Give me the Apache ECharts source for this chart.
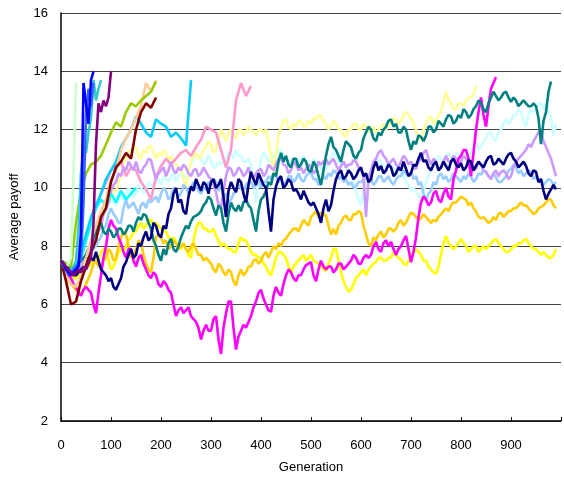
<!DOCTYPE html>
<html>
<head>
<meta charset="utf-8">
<script src="https://cdn.jsdelivr.net/npm/echarts@6/dist/echarts.min.js"></script>
<style>
  html, body { margin: 0; padding: 0; background: #fff; }
  #chart { width: 564px; height: 479px; }
</style>
</head>
<body>
<div id="chart"></div>
<script>
// Average payoff per generation for each simulated population.
// Runs are sampled every 5 or 10 generations (see the step in `runs`).
const xTicks = [0, 100, 200, 300, 400, 500, 600, 700, 800, 900];
const yTicks = [2, 4, 6, 8, 10, 12, 14, 16];

// fast-rising runs, every 5 generations
const lightGreenRun = [7.5, 7.4, 7.3, 7.4, 7.6, 10.5, 13.6];
const blueRun = [7.5, 7.4, 7.2, 7.1, 7.0, 7.1, 7.2, 7.3, 8.5, 13.6, 12.9, 12.2, 13.7, 14.0];
const royalBlueRun = [7.5, 7.3, 7.2, 7.0, 7.1, 7.2, 7.3, 7.4, 7.6, 9.5, 12.5, 13.4, 12.8, 13.6];
const turquoiseRun = [7.5, 7.4, 7.3, 7.2, 7.2, 7.3, 7.5, 8.6, 10.5, 11.4, 11.2, 11.9, 12.4, 13.7, 13.0, 13.4, 13.7];
const purpleRun = [7.5, 7.4, 7.3, 7.2, 7.1, 7.0, 7.1, 7.2, 7.1, 7.3, 7.2, 7.4, 7.6, 8.8, 11.5, 12.9, 12.6, 13.0, 12.8, 13.1, 14.0];

// shorter runs, every 10 generations
const maroonRun = [7.5, 6.8, 6.0, 6.1, 6.8, 7.3, 7.8, 8.2, 9.0, 9.3, 10.2, 10.7, 10.9, 11.2, 11.0, 12.0, 12.6, 12.9, 12.75, 13.1];
const peachRun = [7.5, 7.0, 6.7, 6.6, 7.0, 7.6, 8.2, 8.7, 9.2, 9.6, 10.3, 10.6, 11.3, 11.7, 12.0, 12.4, 12.8, 13.6, 13.3, 13.7];
const yellowGreenRun = [7.5, 7.4, 7.3, 8.8, 9.9, 10.5, 10.8, 10.9, 11.1, 11.5, 11.9, 12.25, 12.1, 12.6, 12.9, 12.8, 13.0, 13.15, 13.3, 13.65];
const cyanRun = [7.5, 7.3, 7.1, 7.2, 7.6, 8.2, 8.8, 9.3, 9.6, 9.4, 9.8, 9.5, 9.9, 9.6, 9.8, 10.0];
const skyBlueRun = [7.5, 7.3, 7.1, 7.3, 7.8, 8.4, 9.0, 9.4, 9.8, 10.3, 10.6, 10.9, 11.4, 11.7, 12.0, 12.45, 12.2, 11.9, 11.75, 12.35,
  12.2, 12.1, 11.75, 11.9, 11.7, 11.45, 13.7];
const pinkRun = [7.5, 7.3, 7.1, 7.3, 7.6, 8.2, 8.8, 9.3, 9.8, 10.2, 10.6, 10.8, 10.9, 10.4, 10.7, 10.6, 10.2, 9.95, 9.6, 10.4,
  10.75, 11.0, 10.8, 11.0, 11.2, 11.3, 11.1, 11.4, 11.65, 12.1, 12.0, 11.9, 11.3, 10.7, 11.3, 13.0, 13.6, 13.15, 13.5];

// long runs, every 5 generations
const lightYellowRun = [
  7.5, 7.4, 7.3, 7.1, 7.0, 7.0, 7.0, 7.1, 7.2, 7.3, 7.5, 7.7, 7.9, 8.1, 8.4, 8.7, 8.9, 9.2, 9.4, 9.7,
  9.6, 9.9, 9.9, 10.2, 10.4, 10.8, 11.0, 11.3, 11.2, 11.4, 11.4, 11.1, 11.0, 11.3, 11.2, 11.4, 11.45, 11.2, 11.0, 11.2,
  11.1, 11.3, 11.2, 10.9, 11.1, 10.9, 10.8, 10.7, 10.65, 10.3, 10.0, 10.5, 10.9, 11.1, 11.2, 11.0, 11.1, 11.3, 11.4, 11.6,
  11.5, 11.2, 11.3, 11.7, 12.0, 11.8, 11.6, 11.9, 12.0, 11.8, 11.7, 12.0, 12.0, 11.8, 11.9, 12.1, 12.0, 11.9, 11.8, 12.0,
  12.0, 11.9, 12.0, 11.6, 11.1, 10.5, 11.2, 11.8, 12.1, 12.3, 12.35, 12.1, 12.0, 12.2, 12.1, 12.3, 12.3, 12.1, 12.1, 12.3,
  12.2, 12.4, 12.35, 12.5, 12.45, 12.3, 12.2, 12.0, 12.1, 12.3, 12.2, 12.0, 12.0, 11.8, 11.75, 12.0, 12.0, 12.2, 12.2, 12.0,
  12.0, 12.2, 12.1, 11.9, 12.0, 12.1, 11.9, 12.0, 12.1, 12.2, 12.0, 12.2, 12.2, 12.4, 12.35, 12.2, 12.3, 12.5, 12.6, 12.5,
  12.4, 12.2, 12.0, 11.7, 11.65, 12.0, 12.2, 12.4, 12.45, 12.2, 12.3, 12.5, 12.6, 13.0, 13.3, 13.0, 12.9, 12.7, 12.7, 12.9,
  12.9, 12.8, 13.0, 13.1, 13.1, 13.2, 13.5];
const paleCyanRun = [
  7.5, 7.4, 7.3, 7.1, 7.0, 7.05, 7.1, 7.2, 7.4, 7.6, 7.8, 8.0, 8.2, 8.4, 8.6, 8.8, 8.9, 9.1, 9.2, 9.4,
  9.6, 9.5, 9.4, 9.6, 9.7, 9.6, 9.8, 10.0, 9.9, 9.7, 9.8, 10.1, 10.0, 9.8, 9.95, 10.2, 10.1, 10.0, 10.2, 10.3,
  10.1, 10.4, 10.3, 10.2, 10.4, 10.5, 10.2, 10.4, 10.5, 10.3, 10.4, 10.6, 10.8, 11.0, 11.2, 11.1, 11.0, 10.8, 10.9, 11.1,
  10.9, 10.7, 10.7, 10.9, 10.8, 10.9, 11.0, 11.2, 11.2, 11.0, 11.3, 11.1, 11.1, 10.9, 10.9, 11.0, 10.8, 10.2, 9.5, 10.4,
  11.0, 11.2, 11.1, 10.9, 10.9, 11.1, 11.1, 11.3, 11.3, 11.1, 11.0, 10.8, 10.9, 11.0, 10.8, 10.9, 11.0, 11.1, 10.9, 10.8,
  10.8, 11.0, 10.9, 10.8, 10.7, 10.5, 10.65, 10.9, 11.0, 11.2, 11.1, 10.9, 10.8, 10.9, 10.7, 10.6, 10.5, 10.2, 9.9, 9.6,
  9.4, 9.9, 10.2, 10.5, 10.6, 10.8, 10.8, 11.0, 10.9, 10.7, 10.7, 10.9, 10.8, 10.6, 10.6, 10.7, 10.5, 10.4, 10.2, 10.1,
  9.9, 10.0, 9.85, 9.7, 9.6, 9.9, 10.2, 10.4, 10.6, 10.8, 10.9, 11.1, 11.0, 10.8, 11.1, 11.2, 11.0, 10.9, 11.2, 11.1,
  11.0, 11.2, 11.3, 11.1, 11.2, 11.5, 11.55, 11.3, 11.4, 11.6, 11.7, 11.9, 11.9, 11.7, 11.6, 11.9, 12.0, 12.2, 12.35, 12.2,
  12.3, 12.5, 12.5, 12.7, 12.6, 12.3, 12.1, 12.5, 12.7, 12.6, 12.7, 12.9, 12.9, 12.7, 12.9, 12.6, 12.45, 11.8, 12.2];
const lightBlueRun = [
  7.5, 7.4, 7.3, 7.2, 7.1, 7.1, 7.1, 7.2, 7.3, 7.4, 7.6, 7.7, 7.8, 7.9, 8.0, 8.2, 8.3, 8.6, 8.7, 9.1,
  9.3, 9.1, 9.0, 8.8, 8.8, 9.3, 9.6, 9.3, 9.4, 9.5, 9.3, 9.1, 9.4, 9.5, 9.3, 9.6, 9.5, 9.6, 9.7, 9.5,
  9.8, 10.0, 9.9, 9.6, 9.7, 10.0, 9.9, 9.7, 9.8, 10.1, 10.0, 9.8, 10.0, 10.2, 10.05, 9.9, 9.8, 10.0, 9.95, 10.2,
  10.1, 10.3, 10.2, 9.9, 10.05, 9.7, 9.8, 9.5, 9.6, 9.8, 9.9, 10.1, 10.0, 9.9, 10.1, 10.2, 10.2, 10.0, 10.1, 10.3,
  10.0, 10.2, 10.2, 10.4, 10.3, 10.5, 10.4, 10.2, 10.3, 10.1, 10.2, 10.4, 10.4, 10.2, 10.3, 10.5, 10.3, 10.2, 10.4, 10.5,
  10.5, 10.3, 10.3, 10.1, 10.2, 10.4, 10.3, 10.5, 10.4, 10.6, 10.55, 10.3, 10.4, 10.2, 10.3, 10.1, 10.2, 10.0, 10.05, 10.2,
  10.2, 10.3, 10.4, 10.2, 10.3, 10.1, 10.2, 10.4, 10.4, 10.2, 10.3, 10.4, 10.2, 10.1, 10.3, 10.4, 10.4, 10.6, 10.5, 10.4,
  10.55, 10.3, 10.4, 10.1, 10.2, 9.8, 9.6, 9.8, 9.9, 10.2, 10.1, 10.4, 10.5, 10.3, 10.4, 10.2, 10.3, 10.5, 10.4, 10.3,
  10.2, 10.4, 10.3, 10.5, 10.4, 10.2, 10.3, 10.5, 10.45, 10.6, 10.55, 10.4, 10.3, 10.5, 10.35, 10.2, 10.2, 10.3, 10.4, 10.6,
  10.65, 10.8, 10.7, 10.5, 10.6, 10.4, 10.5, 10.6, 10.55, 10.3, 10.4, 10.2, 10.3, 10.1, 10.2, 10.3, 10.25, 10.1, 10.2];
const lightPurpleRun = [
  7.5, 7.4, 7.3, 7.2, 7.1, 7.15, 7.2, 7.3, 7.4, 7.5, 7.7, 7.8, 8.0, 8.2, 8.4, 8.5, 8.7, 9.1, 9.3, 9.5,
  9.9, 10.1, 10.2, 10.5, 10.4, 10.7, 10.6, 10.9, 10.75, 10.6, 10.9, 10.6, 10.5, 10.7, 10.8, 11.0, 10.95, 10.6, 10.3, 10.5,
  10.6, 10.7, 10.4, 10.6, 10.9, 10.6, 10.5, 10.7, 10.6, 10.8, 10.7, 10.5, 10.4, 10.6, 10.65, 10.4, 10.5, 10.7, 10.55, 10.4,
  10.3, 10.1, 9.85, 9.4, 9.3, 9.9, 10.4, 10.7, 10.65, 10.4, 10.5, 10.7, 10.6, 10.4, 10.5, 10.7, 10.4, 10.3, 10.5, 10.6,
  10.65, 10.4, 10.5, 10.8, 10.7, 10.6, 10.8, 11.0, 11.0, 10.8, 10.75, 10.5, 10.6, 10.9, 10.8, 10.6, 10.7, 10.5, 10.65, 10.8,
  10.7, 10.5, 10.6, 10.9, 10.8, 10.9, 11.0, 10.8, 10.9, 11.0, 10.8, 10.6, 10.75, 10.9, 10.7, 10.8, 10.8, 10.95, 10.9, 10.7,
  10.6, 10.4, 9.0, 10.3, 10.6, 10.9, 11.0, 11.2, 11.3, 11.1, 11.0, 10.8, 10.9, 11.0, 10.8, 10.7, 10.9, 11.1, 11.0, 10.8,
  10.9, 10.7, 10.65, 10.9, 11.0, 11.2, 11.3, 11.0, 10.8, 11.0, 10.9, 10.6, 10.7, 10.9, 11.1, 10.9, 10.9, 11.1, 11.0, 10.8,
  10.9, 11.1, 11.0, 10.9, 10.8, 10.6, 10.65, 10.9, 10.8, 10.6, 10.55, 10.4, 10.3, 10.5, 10.6, 10.4, 10.55, 10.6, 10.5, 10.3,
  10.4, 10.7, 10.9, 11.0, 11.1, 11.2, 11.3, 11.5, 11.4, 11.6, 11.75, 11.9, 11.95, 11.6, 11.4, 11.2, 11.0, 10.7, 10.4];
const tealRun = [
  7.5, 7.45, 7.4, 7.3, 7.2, 7.25, 7.3, 7.4, 7.5, 7.6, 7.7, 7.9, 8.0, 8.3, 8.5, 8.7, 8.8, 8.5, 8.4, 8.6,
  8.5, 8.3, 8.4, 8.6, 8.6, 8.4, 8.5, 8.7, 8.7, 8.5, 8.8, 9.0, 8.9, 9.1, 9.05, 8.8, 8.6, 8.2, 8.0, 7.7,
  7.5, 7.9, 7.7, 8.1, 8.25, 7.9, 7.8, 8.0, 8.3, 8.5, 8.7, 8.6, 8.85, 9.0, 9.05, 9.1, 9.2, 9.4, 9.5, 9.7,
  9.6, 9.3, 9.05, 9.4, 9.3, 8.8, 8.5, 9.1, 9.5, 9.3, 9.2, 9.4, 9.2, 9.5, 9.6, 9.4, 9.3, 8.9, 8.5, 9.2,
  9.6, 9.7, 9.9, 10.2, 10.1, 10.5, 10.4, 10.9, 11.2, 10.9, 11.1, 10.8, 10.7, 11.0, 11.0, 10.7, 10.8, 11.0, 10.9, 10.6,
  10.55, 10.9, 10.75, 10.4, 10.1, 10.6, 11.1, 11.5, 11.75, 11.4, 11.3, 11.1, 10.9, 11.3, 11.6, 11.5, 11.4, 11.1, 11.0, 11.2,
  11.3, 11.7, 11.9, 12.1, 12.0, 11.7, 11.6, 11.9, 11.8, 12.0, 12.1, 12.3, 12.35, 12.1, 12.2, 11.9, 11.9, 12.1, 12.0, 11.6,
  11.3, 11.6, 11.5, 11.8, 11.75, 11.6, 11.8, 12.1, 12.1, 11.9, 12.0, 12.3, 12.2, 12.1, 12.35, 12.5, 12.45, 12.2, 12.3, 12.5,
  12.4, 12.7, 12.6, 12.4, 12.5, 12.7, 12.8, 13.0, 12.9, 12.7, 12.6, 12.9, 13.1, 13.3, 13.15, 13.0, 13.1, 13.25, 13.3, 13.1,
  12.95, 13.1, 13.0, 12.8, 12.9, 13.0, 12.9, 12.8, 12.8, 12.9, 12.8, 12.4, 11.5, 12.3, 12.6, 13.3, 13.65];
const navyRun = [
  7.5, 7.4, 7.3, 7.2, 7.1, 7.0, 7.0, 7.1, 7.2, 7.3, 7.4, 7.6, 7.6, 7.5, 7.8, 7.5, 7.2, 7.1, 7.0, 6.8,
  6.9, 6.6, 6.5, 6.7, 6.9, 7.3, 7.45, 7.7, 7.9, 7.6, 7.7, 8.1, 8.0, 8.3, 8.5, 8.2, 8.3, 8.8, 8.7, 8.4,
  8.3, 8.7, 8.6, 9.1, 9.3, 9.8, 10.0, 9.5, 9.6, 9.2, 9.1, 9.7, 10.05, 9.9, 10.3, 10.1, 9.9, 10.2, 10.1, 9.8,
  10.2, 10.3, 10.0, 10.1, 10.3, 9.7, 9.0, 9.9, 10.2, 10.0, 9.85, 10.3, 10.2, 9.8, 9.5, 10.1, 10.55, 10.3, 10.1, 10.5,
  10.3, 10.1, 10.0, 9.2, 8.5, 9.6, 10.05, 10.3, 10.4, 10.0, 10.1, 10.3, 10.2, 9.9, 9.95, 9.8, 9.6, 9.9, 9.7, 9.5,
  9.4, 9.5, 9.3, 9.1, 8.8, 9.3, 9.6, 9.2, 9.4, 9.9, 10.3, 10.5, 10.6, 10.3, 10.4, 10.6, 10.5, 10.3, 10.4, 10.6,
  10.7, 10.4, 10.5, 10.2, 10.3, 10.7, 10.9, 10.6, 10.75, 10.5, 10.6, 10.8, 10.7, 10.4, 10.5, 10.7, 10.6, 10.9, 10.65, 10.4,
  10.5, 10.8, 10.75, 11.0, 11.2, 10.9, 10.95, 10.7, 10.6, 10.8, 10.9, 10.6, 10.7, 10.9, 10.75, 10.6, 10.9, 11.0, 10.8, 10.7,
  10.85, 10.6, 10.7, 10.95, 10.9, 10.6, 10.75, 10.9, 10.8, 10.7, 10.9, 11.05, 11.1, 10.8, 10.85, 11.0, 10.9, 10.8, 11.0, 11.15,
  11.2, 11.0, 10.9, 10.7, 10.8, 10.9, 10.75, 10.5, 10.4, 10.6, 10.55, 10.2, 10.3, 9.9, 9.6, 9.8, 9.95, 10.1, 9.95];
const goldRun = [
  7.5, 7.2, 7.0, 6.8, 6.7, 6.6, 6.5, 6.4, 6.4, 6.5, 6.7, 6.9, 7.1, 7.4, 7.5, 7.3, 7.3, 7.5, 7.6, 7.9,
  7.8, 7.5, 7.6, 8.0, 8.3, 8.5, 8.4, 8.0, 7.6, 7.7, 7.9, 8.2, 8.1, 7.7, 7.4, 7.2, 7.1, 7.6, 8.3, 8.4,
  8.3, 8.1, 8.2, 7.9, 8.0, 8.2, 8.1, 7.9, 8.0, 8.1, 7.9, 7.8, 8.0, 8.1, 7.9, 7.7, 7.7, 7.5, 7.6, 7.5,
  7.4, 7.2, 7.1, 7.4, 7.3, 7.1, 7.0, 7.2, 7.1, 6.8, 6.65, 7.0, 7.2, 7.0, 7.1, 7.3, 7.3, 7.5, 7.55, 7.4,
  7.5, 7.7, 7.8, 7.6, 7.8, 8.0, 7.9, 8.1, 8.0, 8.2, 8.25, 8.4, 8.5, 8.6, 8.6, 8.5, 8.7, 8.9, 8.8, 8.7,
  9.0, 9.1, 9.2, 9.0, 9.15, 9.1, 9.05, 8.7, 8.4, 8.6, 8.4, 8.7, 8.8, 9.0, 9.05, 8.9, 8.9, 9.1, 9.1, 9.2,
  9.15, 8.7, 8.4, 8.1, 8.0, 8.3, 8.2, 8.4, 8.5, 8.3, 8.4, 8.6, 8.6, 8.5, 8.6, 8.8, 8.9, 8.7, 8.8, 9.0,
  9.15, 9.1, 9.0, 8.9, 8.95, 9.1, 9.0, 8.9, 8.8, 8.9, 8.85, 9.0, 9.1, 9.2, 9.3, 9.2, 9.4, 9.5, 9.5, 9.6,
  9.7, 9.65, 9.6, 9.4, 9.5, 9.3, 9.2, 9.0, 8.95, 9.0, 8.9, 8.8, 8.85, 9.0, 8.9, 9.1, 9.15, 9.0, 9.1, 9.2,
  9.2, 9.3, 9.3, 9.4, 9.5, 9.4, 9.4, 9.3, 9.2, 9.1, 9.15, 9.3, 9.35, 9.4, 9.5, 9.6, 9.6, 9.4, 9.3];
const yellowRun = [
  7.5, 7.4, 7.3, 7.1, 7.0, 6.9, 6.9, 7.0, 7.0, 7.2, 7.3, 7.3, 7.4, 7.6, 7.6, 7.5, 7.8, 7.9, 7.9, 7.5,
  7.2, 7.3, 7.5, 7.8, 7.9, 7.8, 8.0, 8.2, 8.3, 8.5, 8.5, 8.7, 8.8, 8.6, 8.7, 8.9, 8.9, 8.7, 8.8, 8.7,
  8.6, 8.5, 8.5, 8.3, 8.2, 8.3, 8.15, 8.0, 7.9, 8.1, 7.9, 7.7, 7.6, 8.2, 8.6, 8.8, 8.8, 8.6, 8.6, 8.5,
  8.5, 8.6, 8.35, 8.2, 8.0, 8.1, 8.0, 7.9, 7.9, 7.8, 7.8, 8.1, 8.3, 8.2, 8.2, 8.0, 7.8, 7.7, 7.7, 7.6,
  7.6, 7.4, 7.3, 7.1, 7.0, 7.3, 7.6, 7.8, 7.8, 7.7, 7.6, 7.3, 7.1, 7.3, 7.4, 7.5, 7.6, 7.7, 7.5, 7.6,
  7.7, 7.5, 7.45, 7.4, 7.3, 7.2, 7.15, 7.4, 7.6, 7.9, 7.9, 7.5, 7.1, 6.8, 6.6, 6.45, 6.5, 6.7, 6.9, 7.0,
  7.1, 7.2, 7.0, 7.2, 7.3, 7.4, 7.45, 7.6, 7.6, 7.5, 7.5, 7.6, 7.6, 7.8, 7.7, 7.6, 7.55, 7.4, 7.35, 7.5,
  7.7, 7.8, 7.9, 7.8, 7.7, 7.5, 7.5, 7.3, 7.2, 7.1, 7.05, 7.3, 7.7, 8.1, 8.35, 8.1, 8.0, 7.9, 8.0, 8.1,
  8.25, 8.1, 8.0, 7.8, 7.9, 8.0, 8.0, 7.8, 7.9, 8.0, 7.9, 8.0, 8.1, 8.2, 8.25, 8.1, 8.0, 7.9, 7.8, 7.8,
  7.9, 8.0, 8.0, 8.1, 8.1, 8.2, 8.25, 8.1, 8.0, 7.9, 7.9, 7.8, 7.7, 7.8, 7.7, 7.6, 7.6, 7.7, 7.9];
const magentaRun = [
  7.5, 7.4, 7.2, 7.0, 6.9, 6.7, 6.6, 6.4, 6.3, 6.5, 6.6, 6.5, 6.4, 6.0, 5.7, 6.4, 7.0, 7.6, 8.0, 8.6,
  8.9, 8.7, 8.6, 8.3, 8.1, 7.8, 7.6, 7.9, 7.9, 7.5, 7.3, 7.6, 7.7, 7.4, 7.2, 7.0, 6.9, 7.1, 7.0, 6.7,
  6.6, 6.8, 6.7, 6.5, 6.4, 6.0, 5.6, 5.8, 5.9, 5.7, 5.8, 5.9, 5.6, 5.5, 5.4, 5.2, 4.8, 5.1, 5.3, 5.1,
  5.1, 5.5, 5.6, 4.8, 4.3, 5.2, 5.7, 6.1, 6.1, 5.2, 4.45, 4.9, 5.1, 5.3, 5.2, 5.4, 5.6, 5.9, 6.1, 6.4,
  6.5, 6.2, 6.0, 5.8, 5.75, 6.3, 6.6, 6.4, 6.3, 6.7, 7.0, 7.2, 7.1, 6.9, 6.8, 7.0, 7.0, 7.2, 7.35, 7.4,
  7.45, 7.0, 6.8, 7.2, 7.5, 7.3, 7.2, 7.3, 7.3, 7.1, 7.2, 7.4, 7.4, 7.2, 7.3, 7.4, 7.5, 7.7, 7.6, 7.4,
  7.4, 7.6, 7.7, 7.6, 7.7, 8.0, 8.15, 7.9, 7.8, 8.1, 8.2, 8.0, 8.15, 7.9, 7.7, 7.9, 8.0, 8.2, 8.35, 7.9,
  7.45, 7.8, 8.3, 9.0, 9.5, 9.7, 9.6, 9.4, 9.5, 9.8, 9.9, 9.6, 9.5, 9.8, 10.0, 9.7, 9.6, 10.3, 10.6, 11.0,
  11.1, 11.3, 11.3, 11.0, 10.4, 11.2, 12.0, 12.6, 13.1, 12.5, 12.1, 12.8, 13.4, 13.6, 13.8];

// Each run: values, sampling step (generations) and line colour, drawn in this order.
const runs = [
  { values: paleCyanRun, step: 5, color: '#ccffff' },
  { values: lightYellowRun, step: 5, color: '#ffff99' },
  { values: lightBlueRun, step: 5, color: '#99ccff' },
  { values: pinkRun, step: 10, color: '#ff99cc' },
  { values: lightPurpleRun, step: 5, color: '#cc99ff' },
  { values: cyanRun, step: 10, color: '#00ffff' },
  { values: skyBlueRun, step: 10, color: '#00ccff' },
  { values: yellowRun, step: 5, color: '#ffff00' },
  { values: goldRun, step: 5, color: '#ffcc00' },
  { values: magentaRun, step: 5, color: '#ff00ff' },
  { values: tealRun, step: 5, color: '#008080' },
  { values: navyRun, step: 5, color: '#000080' },
  { values: peachRun, step: 10, color: '#ffcc99' },
  { values: maroonRun, step: 10, color: '#800000' },
  { values: yellowGreenRun, step: 10, color: '#99cc00' },
  { values: lightGreenRun, step: 5, color: '#ccffcc' },
  { values: turquoiseRun, step: 5, color: '#33cccc' },
  { values: royalBlueRun, step: 5, color: '#3366ff' },
  { values: blueRun, step: 5, color: '#0000ff' },
  { values: purpleRun, step: 5, color: '#800080' }
];

const FONT = '"Liberation Sans", Arial, sans-serif';

const chart = echarts.init(document.getElementById('chart'), null, { renderer: 'canvas' });
chart.setOption({
  animation: false,
  backgroundColor: '#ffffff',
  grid: { left: 61, right: -3, top: 13, bottom: 56, containLabel: false },
  xAxis: {
    type: 'value',
    min: 0,
    max: 1000,
    interval: 100,
    name: 'Generation',
    nameLocation: 'middle',
    nameGap: 40,
    nameTextStyle: { fontFamily: FONT, fontSize: 13, color: '#000' },
    axisLine: { show: true, onZero: false, lineStyle: { color: '#000', width: 1.5 } },
    axisTick: { show: true, inside: true, length: 4, lineStyle: { color: '#000' } },
    axisLabel: {
      margin: 18,
      fontFamily: FONT, fontSize: 13, color: '#000',
      formatter: v => (xTicks.indexOf(v) >= 0 ? String(v) : '')
    },
    splitLine: { show: false }
  },
  yAxis: {
    type: 'value',
    min: yTicks[0],
    max: yTicks[yTicks.length - 1],
    interval: 2,
    name: 'Average payoff',
    nameLocation: 'middle',
    nameGap: 40,
    nameRotate: 90,
    nameTextStyle: { fontFamily: FONT, fontSize: 13, color: '#000' },
    axisLine: { show: true, lineStyle: { color: '#000', width: 1.5 } },
    axisTick: { show: false },
    axisLabel: { margin: 13, fontFamily: FONT, fontSize: 13, color: '#000' },
    splitLine: { show: true, lineStyle: { color: '#444', width: 1 } }
  },
  series: runs.map(r => ({
    type: 'line',
    data: r.values.map((v, i) => [i * r.step, v]),
    showSymbol: false,
    symbol: 'none',
    lineStyle: { color: r.color, width: 2.6 },
    itemStyle: { color: r.color },
    clip: true
  }))
});
</script>
</body>
</html>
